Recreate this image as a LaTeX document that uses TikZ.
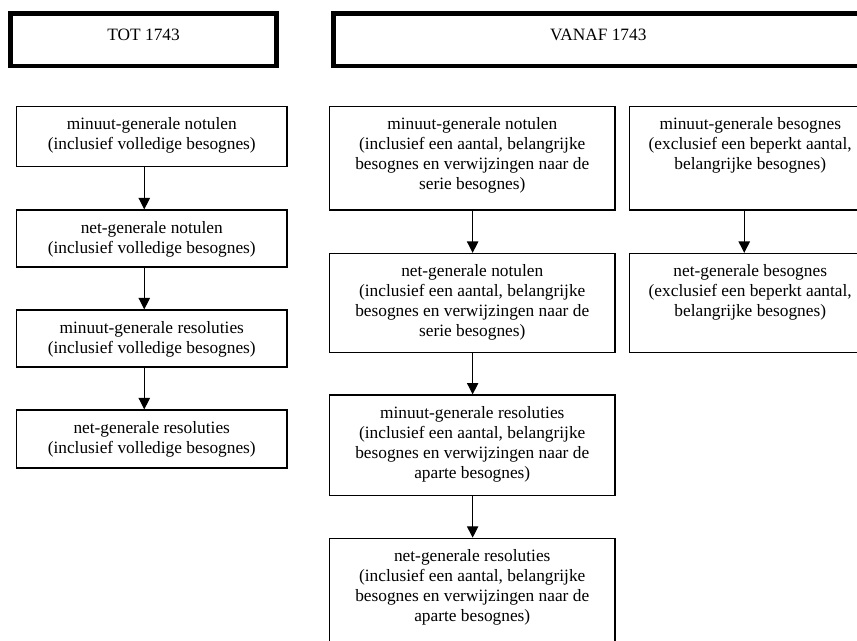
\documentclass[tikz,border=0pt]{standalone}
\usepackage{fontspec}
\setmainfont{Liberation Serif}
\usetikzlibrary{arrows.meta}

\newcommand{\kadertekst}[4]{\parbox[c][#2][t]{#1}{\centering\vspace*{#3}\strut #4}}

\tikzset{
  kop/.style={draw, line width=3.4pt, inner sep=0pt},
  stap/.style={draw, line width=1pt, inner sep=0pt},
  pijl/.style={-{Triangle[width=8.5pt,length=8.5pt]}, line width=0.8pt}
}

\begin{document}
\begin{tikzpicture}[x=0.75pt, y=-0.75pt, every node/.style={font=\fontsize{13}{15}\selectfont}]
  \useasboundingbox (0,0) rectangle (857,641);
  \clip (0,0) rectangle (857,641);

  % kopjes
  \node[kop] (tot) at (143.6, 39.65) {\kadertekst{199.6pt}{39.2pt}{9.4pt}{TOT 1743}};
  \node[kop] (vanaf) at (598.25, 39.65) {\kadertekst{397.1pt}{39.2pt}{9.4pt}{VANAF 1743}};

  % tot 1743
  \node[stap] (tminnot) at (151.75, 136.5) {\kadertekst{202.9pt}{45pt}{7.1pt}{minuut-generale notulen\\(inclusief volledige besognes)}};
  \node[stap] (tnetnot) at (151.75, 238.5) {\kadertekst{202.9pt}{42.75pt}{7.1pt}{net-generale notulen\\(inclusief volledige besognes)}};
  \node[stap] (tminres) at (151.75, 338.5) {\kadertekst{202.9pt}{42.75pt}{7.1pt}{minuut-generale resoluties\\(inclusief volledige besognes)}};
  \node[stap] (tnetres) at (151.75, 439) {\kadertekst{202.9pt}{43.5pt}{7.1pt}{net-generale resoluties\\(inclusief volledige besognes)}};

  % vanaf 1743
  \node[stap] (vminnot) at (472.25, 158.25) {\kadertekst{214.1pt}{77.6pt}{7.1pt}{minuut-generale notulen\\(inclusief een aantal, belangrijke\\besognes en verwijzingen naar de\\serie besognes)}};
  \node[stap] (vnetnot) at (472.25, 303.1) {\kadertekst{214.1pt}{74.4pt}{7.1pt}{net-generale notulen\\(inclusief een aantal, belangrijke\\besognes en verwijzingen naar de\\serie besognes)}};
  \node[stap] (vminres) at (472.25, 445.35) {\kadertekst{214.1pt}{75.5pt}{7.1pt}{minuut-generale resoluties\\(inclusief een aantal, belangrijke\\besognes en verwijzingen naar de\\aparte besognes)}};
  \node[stap] (vnetres) at (472.25, 590.3) {\kadertekst{214.1pt}{78pt}{7.1pt}{net-generale resoluties\\(inclusief een aantal, belangrijke\\besognes en verwijzingen naar de\\aparte besognes)}};

  \node[stap] (vminbes) at (750.25, 158.25) {\kadertekst{181.1pt}{77.6pt}{7.1pt}{minuut-generale besognes\\(exclusief een beperkt aantal,\\belangrijke besognes)}};
  \node[stap] (vnetbes) at (750.25, 303.1) {\kadertekst{181.1pt}{74.4pt}{7.1pt}{net-generale besognes\\(exclusief een beperkt aantal,\\belangrijke besognes)}};

  % pijlen
  \draw[pijl] ([xshift=-5.6pt]tminnot.south) -- ([xshift=-5.6pt]tnetnot.north);
  \draw[pijl] ([xshift=-5.6pt]tnetnot.south) -- ([xshift=-5.6pt]tminres.north);
  \draw[pijl] ([xshift=-5.6pt]tminres.south) -- ([xshift=-5.6pt]tnetres.north);

  \draw[pijl] ([xshift=0.3pt]vminnot.south) -- ([xshift=0.3pt]vnetnot.north);
  \draw[pijl] ([xshift=0.3pt]vnetnot.south) -- ([xshift=0.3pt]vminres.north);
  \draw[pijl] ([xshift=0.3pt]vminres.south) -- ([xshift=0.3pt]vnetres.north);

  \draw[pijl] ([xshift=-4.5pt]vminbes.south) -- ([xshift=-4.5pt]vnetbes.north);
\end{tikzpicture}
\end{document}
